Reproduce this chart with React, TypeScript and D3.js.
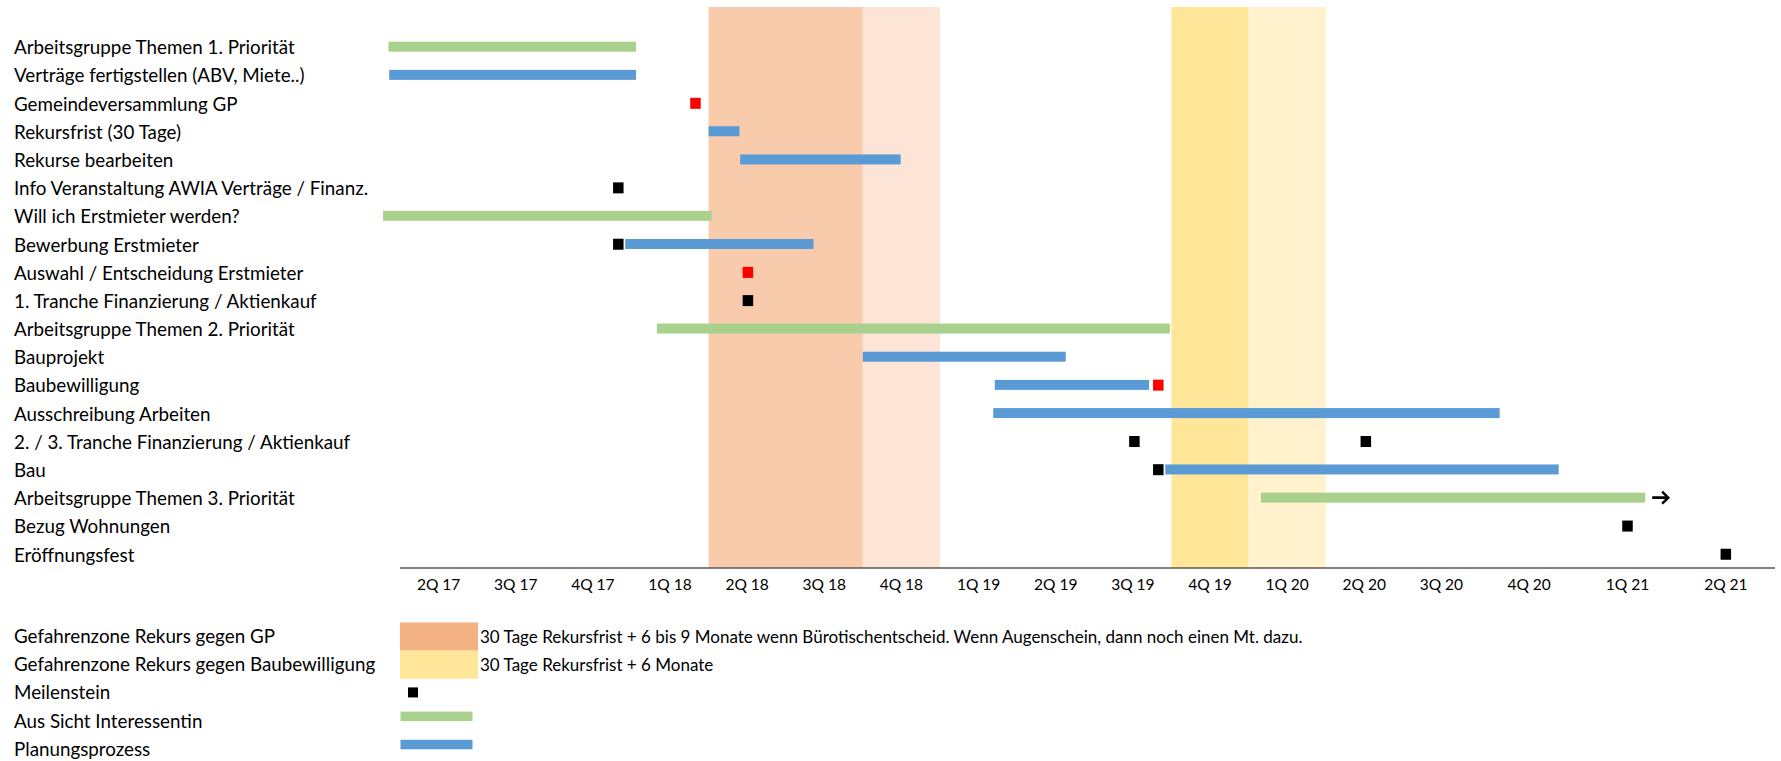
import { useEffect, useRef } from 'react'
import * as d3 from 'd3'

// Zeitachse in Quartalen (0 = Beginn 2Q 17)
const quarterLabels = [
  '2Q 17', '3Q 17', '4Q 17', '1Q 18', '2Q 18', '3Q 18', '4Q 18', '1Q 19', '2Q 19',
  '3Q 19', '4Q 19', '1Q 20', '2Q 20', '3Q 20', '4Q 20', '1Q 21', '2Q 21',
]

const taskLabels = [
  'Arbeitsgruppe Themen 1. Priorität',
  'Verträge fertigstellen (ABV, Miete..)',
  'Gemeindeversammlung GP',
  'Rekursfrist (30 Tage)',
  'Rekurse bearbeiten',
  'Info Veranstaltung AWIA Verträge / Finanz.',
  'Will ich Erstmieter werden?',
  'Bewerbung Erstmieter',
  'Auswahl / Entscheidung Erstmieter',
  '1. Tranche Finanzierung / Aktienkauf',
  'Arbeitsgruppe Themen 2. Priorität',
  'Bauprojekt',
  'Baubewilligung',
  'Ausschreibung Arbeiten',
  '2. / 3. Tranche Finanzierung / Aktienkauf',
  'Bau',
  'Arbeitsgruppe Themen 3. Priorität',
  'Bezug Wohnungen',
  'Eröffnungsfest',
]

// Balken "Aus Sicht Interessentin" (grün): [Zeile, Start, Ende]
const greenBars: Array<[number, number, number]> = [
  [0, -0.15, 3.06],
  [6, -0.22, 4.04],
  [10, 3.33, 9.98],
  [16, 11.16, 15.68],
]

// Balken "Planungsprozess" (blau)
const blueBars: Array<[number, number, number]> = [
  [1, -0.14, 3.06],
  [3, 4.0, 4.4],
  [4, 4.41, 6.49],
  [7, 2.92, 5.36],
  [11, 6.0, 8.63],
  [12, 7.71, 9.71],
  [13, 7.69, 14.2],
  [15, 9.92, 14.8],
]

// Meilensteine: [Zeile, Zeitpunkt]
const blackMilestones: Array<[number, number]> = [
  [5, 2.83],
  [7, 2.83],
  [9, 4.51],
  [14, 9.52],
  [14, 12.52],
  [15, 9.83],
  [17, 15.5],
  [18, 16.5],
]
const redMilestones: Array<[number, number]> = [
  [2, 3.83],
  [8, 4.51],
  [12, 9.83],
]

// Gefahrenzonen: [Start, Ende, Farbe]
const dangerZones: Array<[number, number, string]> = [
  [4, 6, '#F8CBAD'],
  [6, 7, '#FCE4D6'],
  [10, 11, '#FFE699'],
  [11, 12, '#FFF2CC'],
]

// Zeile mit Pfeil (läuft weiter)
const continuedRows = [16]

const legendItems = [
  { label: 'Gefahrenzone Rekurs gegen GP', kind: 'zone', color: '#F4B183', note: '30 Tage Rekursfrist + 6 bis 9 Monate wenn Bürotischentscheid. Wenn Augenschein, dann noch einen Mt. dazu.' },
  { label: 'Gefahrenzone Rekurs gegen Baubewilligung', kind: 'zone', color: '#FFE699', note: '30 Tage Rekursfrist + 6 Monate' },
  { label: 'Meilenstein', kind: 'milestone', color: '#000000', note: '' },
  { label: 'Aus Sicht Interessentin', kind: 'bar', color: '#A9D18E', note: '' },
  { label: 'Planungsprozess', kind: 'bar', color: '#5B9BD5', note: '' },
]

const GREEN = '#A9D18E'
const BLUE = '#5B9BD5'
const RED = '#FF0000'
const FONT = 'Lato, "Open Sans", sans-serif'

export default function App() {
  const svgRef = useRef<SVGSVGElement>(null)

  useEffect(() => {
    if (!svgRef.current) return
    const width = 1781
    const height = 761
    const svg = d3.select(svgRef.current)
    svg.selectAll('*').remove()

    const axisY = 568
    const bandTop = 7

    // Quartale: die letzten drei Spalten sind breiter
    const x = d3.scaleLinear().domain([0, 14, 17]).range([400, 1480, 1775])
    const row = d3.scaleLinear().domain([0, 18]).range([47.7, 555])

    svg.append('rect').attr('width', width).attr('height', height).attr('fill', '#ffffff')

    // Gefahrenzonen
    svg.append('g')
      .selectAll('rect')
      .data(dangerZones)
      .join('rect')
      .attr('x', (d) => x(d[0]))
      .attr('width', (d) => x(d[1]) - x(d[0]))
      .attr('y', bandTop)
      .attr('height', axisY - bandTop)
      .attr('fill', (d) => d[2])

    // Achse
    svg.append('line')
      .attr('x1', x(0))
      .attr('x2', x(17))
      .attr('y1', axisY)
      .attr('y2', axisY)
      .attr('stroke', '#595959')
      .attr('stroke-width', 1.6)

    svg.append('g')
      .selectAll('text')
      .data(quarterLabels)
      .join('text')
      .attr('x', (_, i) => (x(i) + x(i + 1)) / 2)
      .attr('y', 584.5)
      .attr('dy', '0.35em')
      .attr('text-anchor', 'middle')
      .attr('font-family', FONT)
      .attr('font-size', 15.5)
      .attr('fill', '#000')
      .text((d) => d)

    // Aufgabenbezeichnungen
    svg.append('g')
      .selectAll('text')
      .data(taskLabels)
      .join('text')
      .attr('x', 14)
      .attr('y', (_, i) => row(i))
      .attr('dy', '0.35em')
      .attr('font-family', FONT)
      .attr('font-size', 18.8)
      .attr('fill', '#000')
      .text((d) => d)

    const barH = 10
    const drawBars = (data: Array<[number, number, number]>, color: string) => {
      svg.append('g')
        .selectAll('rect')
        .data(data)
        .join('rect')
        .attr('x', (d) => x(d[1]))
        .attr('width', (d) => x(d[2]) - x(d[1]))
        .attr('y', (d) => row(d[0]) - barH / 2 - 1)
        .attr('height', barH)
        .attr('fill', color)
    }
    drawBars(greenBars, GREEN)
    drawBars(blueBars, BLUE)

    const ms = 10.5
    const drawMilestones = (data: Array<[number, number]>, color: string) => {
      svg.append('g')
        .selectAll('rect')
        .data(data)
        .join('rect')
        .attr('x', (d) => x(d[1]) - ms / 2)
        .attr('y', (d) => row(d[0]) - ms / 2 - 1)
        .attr('width', ms)
        .attr('height', ms + 0.5)
        .attr('fill', color)
    }
    drawMilestones(blackMilestones, '#000')
    drawMilestones(redMilestones, RED)

    // Pfeil am Ende der fortlaufenden Balken
    continuedRows.forEach((r) => {
      const bar = greenBars.find((b) => b[0] === r)
      if (!bar) return
      const x0 = x(bar[2]) + 7
      const y0 = row(r) - 1
      svg.append('path')
        .attr('d', `M${x0},${y0} H${x0 + 16} M${x0 + 10},${y0 - 6} L${x0 + 16},${y0} L${x0 + 10},${y0 + 6}`)
        .attr('fill', 'none')
        .attr('stroke', '#000')
        .attr('stroke-width', 2.6)
    })

    // Legende (etwas nach oben, damit die Unterlängen der letzten Zeile sichtbar bleiben)
    const legendRow = (i: number) => row(21 + i) - 3
    const lg = svg.append('g')
    legendItems.forEach((item, i) => {
      const cy = legendRow(i)
      lg.append('text')
        .attr('x', 14)
        .attr('y', cy)
        .attr('dy', '0.35em')
        .attr('font-family', FONT)
        .attr('font-size', 18.8)
        .attr('fill', '#000')
        .text(item.label)
      if (item.kind === 'zone') {
        lg.append('rect')
          .attr('x', x(0))
          .attr('width', 78)
          .attr('y', cy - 14.1)
          .attr('height', 28.2)
          .attr('fill', item.color)
        lg.append('text')
          .attr('x', x(0) + 80)
          .attr('y', cy)
          .attr('dy', '0.35em')
          .attr('font-family', FONT)
          .attr('font-size', 17)
          .attr('fill', '#000')
          .text(item.note)
      } else if (item.kind === 'milestone') {
        lg.append('rect')
          .attr('x', x(0) + 8)
          .attr('y', cy - 5.5)
          .attr('width', 10)
          .attr('height', 10)
          .attr('fill', item.color)
      } else {
        lg.append('rect')
          .attr('x', x(0) + 0.5)
          .attr('width', 72)
          .attr('y', cy - 9.5)
          .attr('height', 9.5)
          .attr('fill', item.color)
      }
    })
  }, [])

  return (
    <svg
      ref={svgRef}
      width={1781}
      height={761}
      style={{ position: 'absolute', left: 0, top: 0, display: 'block' }}
    />
  )
}
